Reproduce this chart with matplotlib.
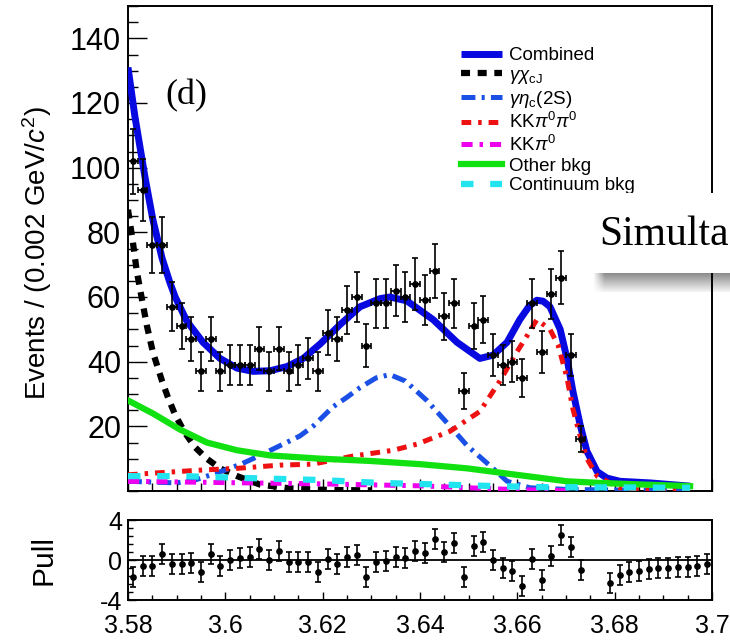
import numpy as np
import matplotlib
matplotlib.use("Agg")
import matplotlib.pyplot as plt
from matplotlib.patches import Rectangle
from matplotlib.ticker import MultipleLocator

# bin centres (GeV/c^2), 0.002 wide bins
mass = [3.581, 3.583, 3.585, 3.587, 3.589, 3.591, 3.593, 3.595, 3.597, 3.599,
        3.601, 3.603, 3.605, 3.607, 3.609, 3.611, 3.613, 3.615, 3.617, 3.619,
        3.621, 3.623, 3.625, 3.627, 3.629, 3.631, 3.633, 3.635, 3.637, 3.639,
        3.641, 3.643, 3.645, 3.647, 3.649, 3.651, 3.653, 3.655, 3.657, 3.659,
        3.661, 3.663, 3.665, 3.667, 3.669, 3.671, 3.673, 3.675, 3.677, 3.679,
        3.681, 3.683, 3.685, 3.687, 3.689, 3.691, 3.693, 3.695, 3.697, 3.699]

counts = [102, 93, 76, 76, 57, 51, 47, 37, 47, 37,
          39, 39, 39, 44, 37, 44, 37, 39, 41, 37,
          49, 47, 56, 60, 45, 58, 58, 62, 60, 64,
          59, 68, 54, 58, 31, 51, 53, 42, 39, 40,
          35, 58, 43, 61, 66, 42, 16, 0, 0, 0,
          0, 0, 0, 0, 0, 0, 0, 0, 0, 0]

pull = [-1.7, -0.6, -0.6, 0.6, -0.4, -0.4, -0.3, -1.2, 0.65, -0.6,
        0.0, 0.25, 0.3, 1.1, 0.0, 0.9, -0.2, -0.2, -0.2, -1.2,
        0.15, -0.4, 0.3, 0.5, -1.7, -0.15, -0.1, 0.3, 0.2, 0.9,
        0.7, 2.1, 0.8, 1.7, -1.7, 1.4, 1.8, 0.0, -0.75, -1.05,
        -2.55, 0.1, -2.0, 0.4, 2.5, 1.3, -1.0, np.nan, np.nan, -2.3,
        -1.5, -1.15, -1.05, -0.9, -0.8, -0.75, -0.65, -0.65, -0.55, -0.35]

# fit curves
comb_m = [3.580, 3.5814, 3.5835, 3.5851, 3.5870, 3.5886, 3.5897, 3.5921, 3.5954, 3.5989,
          3.6024, 3.6057, 3.6092, 3.6127, 3.6160, 3.6195, 3.6236, 3.6277, 3.6318, 3.6338,
          3.6373, 3.6427, 3.6476, 3.6523, 3.6550, 3.6579, 3.6605, 3.6625, 3.6640, 3.6653,
          3.6667, 3.6688, 3.6702, 3.6714, 3.6729, 3.6743, 3.6764, 3.6784, 3.6811, 3.6873,
          3.6955]
comb_v = [131, 116, 97, 84, 72, 64.5, 60, 52.5, 46, 41,
          38, 37, 37.2, 38.5, 41, 45.5, 51.5, 57, 59.5, 60,
          58.8, 53, 46, 41, 42, 46, 53, 57.3, 59, 58.7,
          57, 50, 41, 31, 20.5, 12.3, 6, 4, 3, 2.5,
          1.5]

chi_m = [3.580, 3.5810, 3.5818, 3.5829, 3.5839, 3.5851, 3.5870, 3.5882, 3.5897, 3.5917,
         3.5938, 3.5962, 3.5989, 3.6026, 3.6071, 3.6133, 3.6215, 3.6300]
chi_v = [87, 77, 68, 59, 51, 43, 34, 29, 23.5, 18,
         13.5, 10, 7, 4.5, 2, 0.8, 0.3, 0.2]

eta_m = [3.580, 3.590, 3.594, 3.597, 3.600, 3.6035, 3.6071, 3.6112, 3.6153, 3.6180,
         3.6221, 3.6250, 3.6277, 3.6310, 3.6338, 3.6370, 3.6414, 3.6462, 3.6497, 3.6550,
         3.6579, 3.6626, 3.6700, 3.6800, 3.6955]
eta_v = [3, 2.5, 3.5, 5, 6.5, 8.5, 11, 14, 17, 20,
         26, 29, 32, 35, 36, 34, 28, 20, 14, 7,
         3, 1, 0.5, 0.3, 0.2]

kkpp_m = [3.580, 3.5849, 3.5954, 3.6024, 3.6112, 3.6180, 3.6262, 3.6345, 3.6394, 3.6462,
          3.6523, 3.6564, 3.6599, 3.6620, 3.6640, 3.6667, 3.6684, 3.6702, 3.6714, 3.6729,
          3.6743, 3.6764, 3.6784, 3.6810, 3.6850, 3.6955]
kkpp_v = [5, 5.5, 6.5, 7, 8, 8.3, 10.8, 12.6, 14.5, 18.5,
          24.6, 34, 43, 48, 53, 50, 45, 35, 25.5, 17,
          10, 4.6, 3, 1, 0.3, 0.1]

kkp_m = [3.580, 3.600, 3.620, 3.640, 3.650, 3.660, 3.670]
kkp_v = [3, 2.6, 2.2, 1.6, 1.0, 0.4, 0.1]

other_m = [3.580, 3.5851, 3.5907, 3.5962, 3.6024, 3.6092, 3.6195, 3.6297, 3.6400, 3.6497,
           3.6599, 3.6702, 3.6770, 3.6860, 3.6955]
other_v = [28, 24, 19, 15, 12.6, 11, 10, 9.3, 8.3, 7,
           5, 3, 2.5, 2, 1.5]

cont_m = [3.580, 3.5912, 3.6047, 3.6195, 3.6317, 3.6441, 3.6558, 3.6650, 3.6955]
cont_v = [4.6, 4.6, 4.0, 3.4, 2.5, 2.0, 1.5, 1.2, 1.0]

xtick_vals = [3.58, 3.60, 3.62, 3.64, 3.66, 3.68, 3.70]
xtick_labels = ["3.58", "3.6", "3.62", "3.64", "3.66", "3.68", "3.7"]
ytick_vals = [20, 40, 60, 80, 100, 120, 140]

plt.rcParams["font.family"] = ["Liberation Sans", "DejaVu Sans"]
plt.rcParams["mathtext.fontset"] = "custom"
plt.rcParams["mathtext.rm"] = "Liberation Sans"
plt.rcParams["mathtext.it"] = "Liberation Sans:italic"
plt.rcParams["axes.unicode_minus"] = False
plt.rcParams["lines.scale_dashes"] = False
plt.rcParams["axes.linewidth"] = 1.4

W, H = 730.0, 640.0
fig = plt.figure(figsize=(7.3, 6.4), dpi=100)
ax = fig.add_axes([128 / W, 1 - 491 / H, 584 / W, 485 / H])
axp = fig.add_axes([128 / W, 1 - 600 / H, 584 / W, 80 / H])
ax.patch.set_alpha(0)

# curves
l_comb, = ax.plot(comb_m, comb_v, color="#0808e0", lw=5, solid_capstyle="butt", zorder=3)
l_chi, = ax.plot(chi_m, chi_v, color="black", lw=4.5, dashes=(6.5, 5.5), zorder=4)
l_eta, = ax.plot(eta_m, eta_v, color="#1a50e6", lw=3.6, dashes=(10, 4.5, 2.2, 4.5), zorder=4)
l_kkpp, = ax.plot(kkpp_m, kkpp_v, color="#ee1111", lw=3.6, dashes=(7, 5, 2.5, 5), zorder=4)
l_kkp, = ax.plot(kkp_m, kkp_v, color="#ee00ee", lw=3.6, dashes=(8, 5, 2.5, 5), zorder=4)
l_other, = ax.plot(other_m, other_v, color="#11e011", lw=4.5, zorder=4)
l_cont, = ax.plot(cont_m, cont_v, color="#22e4ee", lw=4.5, dashes=(9, 12), zorder=4)

# data points, empty bins not drawn
counts = np.array(counts, dtype=float)
mass = np.array(mass)
has = counts > 0
ax.errorbar(mass[has], counts[has], yerr=np.sqrt(counts[has]), xerr=0.001,
            fmt="o", color="black", ms=3.8, elinewidth=1.2, capsize=2.5,
            capthick=1.2, zorder=6)

ax.set_xlim(3.58, 3.70)
ax.set_ylim(0, 150)
ax.set_xticks(xtick_vals)
ax.set_yticks(ytick_vals)
ax.xaxis.set_minor_locator(MultipleLocator(0.005))
ax.yaxis.set_minor_locator(MultipleLocator(5))
ax.tick_params(which="both", direction="in", top=False, right=False,
               labelbottom=False, width=1)
ax.tick_params(axis="y", which="major", length=14, labelsize=22, pad=5)
ax.tick_params(axis="y", which="minor", length=7)
ax.tick_params(axis="x", which="major", length=9)
ax.tick_params(axis="x", which="minor", length=5.5)
ax.set_ylabel("Events / (0.002 GeV/$c^2$)", fontsize=20)
ax.yaxis.set_label_coords(-0.127, 0.49)

ax.text(0.0993, 0.814, "(d)", transform=ax.transAxes, ha="center", va="center",
        fontsize=26, family="Liberation Serif")

handles = [l_comb, l_chi, l_eta, l_kkpp, l_kkp, l_other, l_cont]
labels = ["Combined", r"$\gamma\chi_{\mathrm{cJ}}$", r"$\gamma\eta_{\mathrm{c}}$(2S)",
          r"KK$\pi^0\pi^0$", r"KK$\pi^0$", "Other bkg", "Continuum bkg"]
ax.legend(handles, labels, loc="upper left", bbox_to_anchor=(461 / W, 1 - 47 / H),
          bbox_transform=fig.transFigure, frameon=False, fontsize=13.5,
          handlelength=2.2, handletextpad=0.35, labelspacing=0.14, borderpad=0,
          borderaxespad=0)

# pull panel
axp.axhline(0, color="black", lw=1.3, zorder=2)
axp.errorbar(mass, pull, yerr=1, fmt="o", color="black", ms=3.8,
             elinewidth=1.2, capsize=2.5, capthick=1.2, zorder=3)
axp.set_xlim(3.58, 3.70)
axp.set_ylim(-4.0, 4.0)
axp.set_xticks(xtick_vals, xtick_labels)
axp.set_yticks([-4, 0, 4])
axp.xaxis.set_minor_locator(MultipleLocator(0.005))
axp.yaxis.set_minor_locator(MultipleLocator(0.8))
axp.tick_params(which="both", direction="in", top=False, right=False, width=1)
axp.tick_params(which="major", length=6, labelsize=18)
axp.tick_params(which="minor", length=3.5)
axp.tick_params(axis="x", pad=10)
axp.tick_params(axis="y", pad=4)
axp.set_ylabel("Pull", fontsize=21.5)
axp.yaxis.set_label_coords(-0.12, 0.5)

# slide overlay cutting into the figure on the right
gax = fig.add_axes([593 / W, 1 - 292 / H, 137 / W, 19 / H], zorder=-1)
rows = np.linspace(0.55, 0.95, 19)[:, None]
cols = np.clip(np.linspace(0, 1, 137) * 12, 0, 1)[None, :]
shade = 1 - (1 - rows) * cols
gax.imshow(shade, cmap="gray", vmin=0, vmax=1, aspect="auto", interpolation="bilinear")
gax.axis("off")

fig.add_artist(Rectangle((593 / W, 1 - 273 / H), 137 / W, 80 / H,
                         transform=fig.transFigure, facecolor="white",
                         edgecolor="none", zorder=10))
fig.text(599 / W, 1 - 245 / H, "Simulta", fontsize=30, family="Liberation Serif",
         va="baseline", ha="left", zorder=11)

fig.savefig("out.png", dpi=100)
